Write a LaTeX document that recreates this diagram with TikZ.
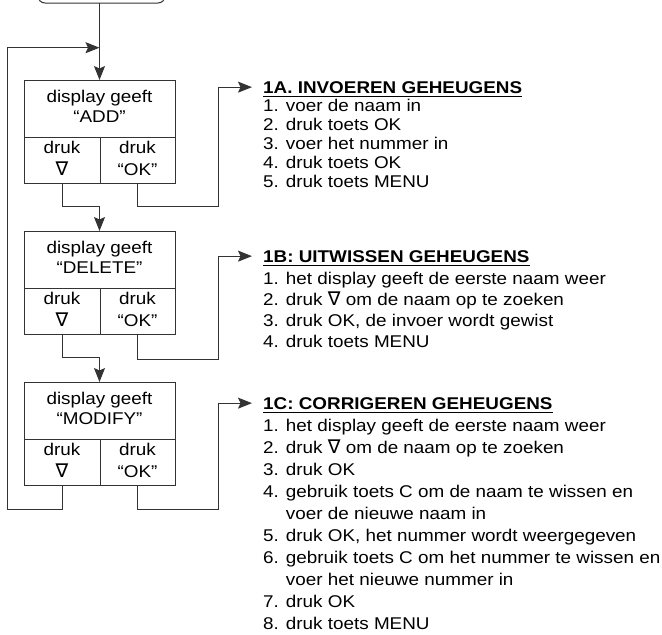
\documentclass[tikz,border=0pt]{standalone}
\usepackage{fontspec}
\setmainfont[FakeStretch=1.11]{Liberation Sans}
\newfontfamily\symfont{DejaVu Sans}
\usetikzlibrary{arrows.meta}
\newcommand\nab{{\symfont\fontsize{19}{19}\selectfont ∇}}
\definecolor{lc}{gray}{0.2}
\begin{document}
\begin{tikzpicture}[x=1pt,y=-1pt,
  font=\fontsize{17}{19}\selectfont,
  cell/.style={draw=lc, line width=1pt, inner sep=0pt, outer sep=0pt},
  txt/.style={inner sep=0pt, anchor=base, text=black},
  item/.style={inner sep=0pt, anchor=base west, text=black},
  hdr/.style={item, font=\fontsize{17}{19}\selectfont\bfseries},
  conn/.style={draw=lc, line width=1pt},
  arr/.style={conn, -{Stealth[length=14pt,width=11pt,inset=2.5pt]}},
  uline/.style={draw=black, line width=1.3pt}]
\useasboundingbox (0,0) rectangle (662,635);
\clip (0,0) rectangle (662,635);

% start block (only its lower edge is visible)
\node[cell, rounded corners=7pt, minimum width=127, minimum height=30, anchor=south] (start) at (101.5,3) {};

% the three display boxes
\foreach \k/\T/\lab in {1/80/ADD, 2/231/DELETE, 3/382/MODIFY} {
  \node[cell, minimum width=151, minimum height=57] (u\k) at (99.5,{\T+28.5}) {};
  \node[cell, minimum width=76, minimum height=46] (l\k) at (62,{\T+80}) {};
  \node[cell, minimum width=75, minimum height=46] (r\k) at (137.5,{\T+80}) {};
  \node[txt] (ua\k) at (99.5,{\T+22}) {display geeft};
  \node[txt] (ub\k) at (99.5,{\T+42}) {“\lab”};
  \node[txt] (la\k) at (62,{\T+73}) {druk};
  \node[txt] (lb\k) at (62,{\T+95}) {\nab};
  \node[txt] (ra\k) at (137.5,{\T+73}) {druk};
  \node[txt] (rb\k) at (137.5,{\T+95}) {“OK”};
}

% headers
\node[hdr] (h1) at (263,93) {1A. INVOEREN GEHEUGENS};
\node[hdr] (h2) at (263,262) {1B: UITWISSEN GEHEUGENS};
\node[hdr] (h3) at (263,409) {1C: CORRIGEREN GEHEUGENS};
\foreach \k in {1,2,3}
  \draw[uline] ([yshift=-3.8pt]h\k.base west) -- ([yshift=-3.8pt]h\k.base east);

% lists
\foreach \itm [count=\i] in {1. voer de naam in, 2. druk toets OK, 3. voer het nummer in, 4. druk toets OK, 5. druk toets MENU}
  \node[item] (a\i) at (263,{111+19*(\i-1)}) {\itm};
\foreach \itm [count=\i] in {1. het display geeft de eerste naam weer, 2. druk \nab{} om de naam op te zoeken, {3. druk OK, de invoer wordt gewist}, 4. druk toets MENU}
  \node[item] (b\i) at (263,{284.5+21*(\i-1)}) {\itm};
\foreach \itm [count=\i] in {1. het display geeft de eerste naam weer, 2. druk \nab{} om de naam op te zoeken, 3. druk OK, 4. gebruik toets C om de naam te wissen en, \phantom{4. }voer de nieuwe naam in, {5. druk OK, het nummer wordt weergegeven}, 6. gebruik toets C om het nummer te wissen en, \phantom{6. }voer het nieuwe nummer in, 7. druk OK, 8. druk toets MENU}
  \node[item] (c\i) at (263,{431+22.1*(\i-1)}) {\itm};

% connector coordinates
\coordinate (loopin) at (99.5,47.7);
\coordinate (m3) at (7,509);
\coordinate (j1) at (99.5,206);
\coordinate (j2) at (99.5,357);
\coordinate (k1) at (218.5,206);
\coordinate (k2) at (218.5,359);
\coordinate (k3) at (218.5,509);

% connectors
\draw[arr] (start.south -| u1.north) -- (u1.north);
\draw[arr] (l1.south) |- (j1) -- (u2.north);
\draw[arr] (l2.south) |- (j2) -- (u3.north);
\draw[arr] (l3.south) |- (m3) |- (loopin);
\draw[arr] (r1.south) |- (k1) |- ([xshift=-11pt]h1.west);
\draw[arr] (r2.south) |- (k2) |- ([xshift=-11pt]h2.west);
\draw[arr] (r3.south) |- (k3) |- ([xshift=-11pt]h3.west);
\end{tikzpicture}
\end{document}
